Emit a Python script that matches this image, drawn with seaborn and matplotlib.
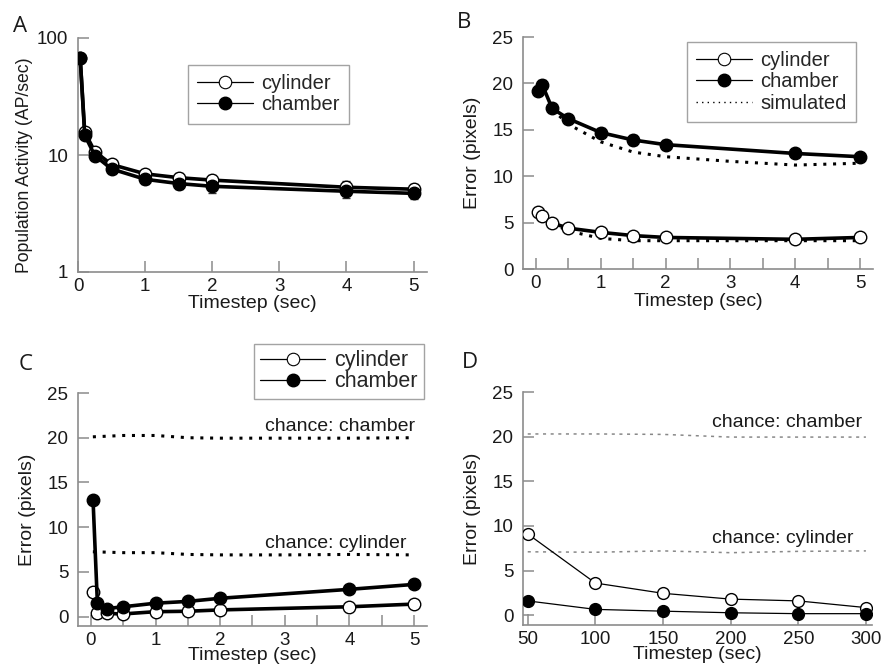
import numpy as np
import pandas as pd
import matplotlib
matplotlib.use("Agg")
import matplotlib.pyplot as plt
from matplotlib.lines import Line2D
import seaborn as sns

# data
timestep = [0.033, 0.1, 0.25, 0.5, 1, 1.5, 2, 4, 5]

# A: population activity (AP/sec), log scale
act_cyl = [67, 15.7, 10.7, 8.3, 6.9, 6.4, 6.1, 5.3, 5.1]
act_cyl_err = [3, 1.0, 0.5, 0.5, 0.6, 0.6, 0.6, 0.7, 0.6]
act_ch = [67, 14.8, 9.9, 7.6, 6.2, 5.7, 5.4, 4.9, 4.7]
act_ch_err = [3, 1.0, 0.5, 0.5, 0.6, 0.6, 0.7, 0.6, 0.5]

# B: decoding error (pixels)
errB_cyl = [6.1, 5.7, 4.95, 4.4, 3.95, 3.6, 3.4, 3.2, 3.4]
errB_cyl_err = [0.2, 0.2, 0.15, 0.15, 0.15, 0.15, 0.1, 0.1, 0.1]
errB_ch = [19.2, 19.8, 17.3, 16.2, 14.7, 13.9, 13.4, 12.45, 12.1]
errB_ch_err = [0.5, 0.6, 0.4, 0.4, 0.5, 0.5, 0.5, 0.3, 0.3]
sim_t = [0.25, 0.5, 1, 1.5, 2, 3, 4, 5]
sim_ch = [17.2, 15.6, 13.7, 12.6, 12.1, 11.6, 11.2, 11.4]
sim_cyl = [4.9, 4.1, 3.3, 3.05, 3.05, 3.05, 3.05, 3.05]

# C: error with shuffled timesteps
errC_cyl = [2.7, 0.35, 0.35, 0.3, 0.55, 0.6, 0.75, 1.1, 1.4]
errC_ch = [13.0, 1.5, 0.9, 1.1, 1.5, 1.7, 2.05, 3.05, 3.6]
chanceC_t = [0.03, 0.5, 1, 1.5, 2, 3, 4, 5]
chanceC_ch = [20.1, 20.25, 20.25, 20.0, 19.95, 19.95, 19.95, 20.0]
chanceC_cyl = [7.25, 7.15, 7.15, 6.95, 6.9, 6.9, 6.95, 6.9]

# D: long timesteps
timestep_D = [50, 100, 150, 200, 250, 300]
errD_cyl = [9.1, 3.6, 2.45, 1.8, 1.6, 0.85]
errD_ch = [1.6, 0.65, 0.45, 0.27, 0.17, 0.17]
chanceD_ch = [20.3, 20.3, 20.25, 19.95, 19.95, 19.95]
chanceD_cyl = [7.1, 7.05, 7.2, 7.0, 7.15, 7.2]

sns.set_theme(style="white")
plt.rcParams["font.family"] = ["Liberation Sans", "DejaVu Sans"]
plt.rcParams["font.size"] = 13

GRAY = "#8c8c8c"
TXT = "#1a1a1a"

fig = plt.figure(figsize=(8.81, 6.67), dpi=100)
W, H = 881, 667


def add_ax(x0, y0, x1, y1):
    return fig.add_axes([x0 / W, 1 - y1 / H, (x1 - x0) / W, (y1 - y0) / H])


axA = add_ax(78, 38, 427, 272)
axB = add_ax(523, 37, 873, 269)
axC = add_ax(78, 393, 427, 626)
axD = add_ax(523, 392, 872, 625)


def style(ax):
    sns.despine(ax=ax)
    for s in ["left", "bottom"]:
        ax.spines[s].set_color(GRAY)
        ax.spines[s].set_linewidth(1.2)
    ax.tick_params(which="both", direction="in", length=8, width=1.1,
                   color=GRAY, labelcolor=TXT, labelsize=13.5,
                   bottom=True, left=True)
    ax.tick_params(axis="y", pad=7)
    ax.tick_params(axis="x", pad=4)
    ax.grid(False)


def series(ax, x, y, filled, lw=2.6, ms=9, err=None):
    df = pd.DataFrame({"t": x, "v": y})
    if err is not None:
        ax.errorbar(x, y, yerr=err, fmt="none", ecolor="#333333",
                    elinewidth=1, capsize=3, capthick=1, zorder=2)
    sns.lineplot(data=df, x="t", y="v", ax=ax, color="black", lw=lw,
                 marker="o", ms=ms, markeredgecolor="black", markeredgewidth=1,
                 markerfacecolor="black" if filled else "white",
                 errorbar=None, zorder=3)


def legend(ax, anchor, sim=False, fs=14.5, hl=2.8, ls=0.12, bp=0.45):
    h = [Line2D([], [], color="black", lw=0.9, marker="o", ms=9,
                markerfacecolor="white", markeredgecolor="black", markeredgewidth=0.8),
         Line2D([], [], color="black", lw=0.9, marker="o", ms=9,
                markerfacecolor="black", markeredgecolor="black")]
    lab = ["cylinder", "chamber"]
    if sim:
        h.append(Line2D([], [], color="black", lw=1, ls=(0, (1, 3))))
        lab.append("simulated")
    lg = ax.legend(h, lab, loc="upper left", bbox_to_anchor=anchor,
                   bbox_transform=fig.transFigure, frameon=True, fancybox=False,
                   edgecolor=GRAY, fontsize=fs, handlelength=hl,
                   handletextpad=0.4, labelspacing=ls, borderpad=bp,
                   borderaxespad=0)
    lg.get_frame().set_linewidth(1)


# A
style(axA)
series(axA, timestep, act_cyl, False, err=act_cyl_err)
series(axA, timestep, act_ch, True, err=act_ch_err)
axA.set_yscale("log")
axA.set_ylim(1, 100)
axA.set_yticks([1, 10, 100])
axA.set_yticklabels(["1", "10", "100"])
axA.yaxis.set_minor_locator(matplotlib.ticker.NullLocator())
axA.set_xlim(0, 5.2)
axA.set_xticks([0, 1, 2, 3, 4, 5])
axA.set_xlabel("Timestep (sec)", color=TXT, fontsize=14, labelpad=0)
axA.set_ylabel("Population Activity (AP/sec)", color=TXT, fontsize=12.7)
axA.yaxis.set_label_coords(-0.128, 0.455)
legend(axA, (188 / W, 1 - 65 / H))

# B
style(axB)
sns.lineplot(x=sim_t, y=sim_ch, ax=axB, color="black", lw=2.2, ls=(0, (1, 2.2)))
sns.lineplot(x=sim_t, y=sim_cyl, ax=axB, color="black", lw=2.2, ls=(0, (1, 2.2)))
series(axB, timestep, errB_cyl, False, err=errB_cyl_err)
series(axB, timestep, errB_ch, True, err=errB_ch_err)
axB.set_ylim(0, 25)
axB.set_yticks([0, 5, 10, 15, 20, 25])
axB.set_xlim(-0.2, 5.2)
axB.set_xticks([0, 1, 2, 3, 4, 5])
axB.set_xticks(np.arange(0.5, 5, 1), minor=True)
axB.set_xlabel("Timestep (sec)", color=TXT, fontsize=14, labelpad=1)
axB.set_ylabel("Error (pixels)", color=TXT, fontsize=14, labelpad=8)
legend(axB, (687 / W, 1 - 42 / H), sim=True)

# C
style(axC)
sns.lineplot(x=chanceC_t, y=chanceC_ch, ax=axC, color="black", lw=2.2, ls=(0, (1, 2.2)))
sns.lineplot(x=chanceC_t, y=chanceC_cyl, ax=axC, color="black", lw=2.2, ls=(0, (1, 2.2)))
series(axC, timestep, errC_cyl, False)
series(axC, timestep, errC_ch, True)
axC.text(5.01, 20.7, "chance: chamber", ha="right", va="baseline", color=TXT, fontsize=14)
axC.text(4.88, 7.65, "chance: cylinder", ha="right", va="baseline", color=TXT, fontsize=14)
axC.set_ylim(-1.05, 25)
axC.set_yticks([0, 5, 10, 15, 20, 25])
axC.set_xlim(-0.2, 5.2)
axC.set_xticks([0, 1, 2, 3, 4, 5])
axC.set_xticks(np.arange(0.5, 5, 1), minor=True)
axC.set_xlabel("Timestep (sec)", color=TXT, fontsize=14, labelpad=-1)
axC.set_ylabel("Error (pixels)", color=TXT, fontsize=14, labelpad=8)
legend(axC, (254 / W, 1 - 344 / H), fs=15.5, hl=3.0, ls=0.0, bp=0.3)

# D
style(axD)
sns.lineplot(x=timestep_D, y=chanceD_ch, ax=axD, color="#888888", lw=1.1, ls=(0, (2, 3)))
sns.lineplot(x=timestep_D, y=chanceD_cyl, ax=axD, color="#888888", lw=1.1, ls=(0, (2, 3)))
series(axD, timestep_D, errD_cyl, False, lw=0.9, ms=8.5)
series(axD, timestep_D, errD_ch, True, lw=0.9, ms=8.5)
axD.text(297.3, 21.05, "chance: chamber", ha="right", va="baseline", color=TXT, fontsize=14)
axD.text(290.6, 8.05, "chance: cylinder", ha="right", va="baseline", color=TXT, fontsize=14)
axD.set_ylim(-1.1, 25)
axD.set_yticks([0, 5, 10, 15, 20, 25])
axD.set_xlim(46.5, 304.5)
axD.set_xticks(timestep_D)
axD.set_xlabel("Timestep (sec)", color=TXT, fontsize=14, labelpad=-1)
axD.set_ylabel("Error (pixels)", color=TXT, fontsize=14, labelpad=8)

for letter, (px, py) in zip("ABCD", [(13, 32), (457, 28), (19, 370), (462, 368)]):
    fig.text(px / W, 1 - py / H, letter, family=["Open Sans", "DejaVu Sans"],
             fontsize=16, color=TXT, ha="left", va="baseline")

fig.savefig("out.png", dpi=100)
